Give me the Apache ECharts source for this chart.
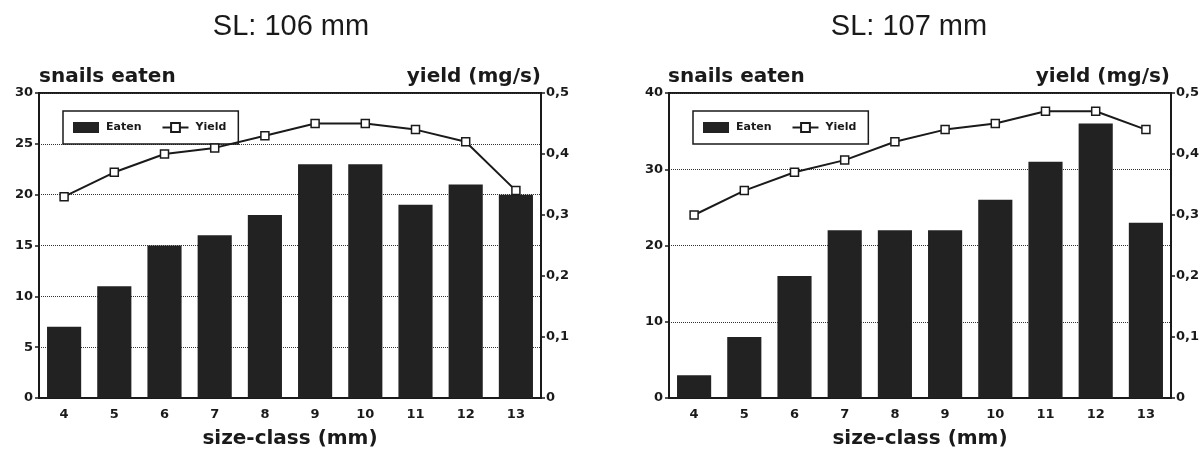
<!DOCTYPE html>
<html>
<head>
<meta charset="utf-8">
<title>Snails eaten and yield by size-class</title>
<script src="https://cdn.jsdelivr.net/npm/echarts@6/dist/echarts.min.js"></script>
<style>
  html, body { margin: 0; padding: 0; background: #fff; }
  #chart { width: 1204px; height: 450px; }
</style>
</head>
<body>
<div id="chart"></div>
<script>
// Size classes on the x axis (mm)
const sizeClasses = ['4', '5', '6', '7', '8', '9', '10', '11', '12', '13'];

// SL 106 mm
const eaten106 = [7, 11, 15, 16, 18, 23, 23, 19, 21, 20];
const yield106 = [0.33, 0.37, 0.40, 0.41, 0.43, 0.45, 0.45, 0.44, 0.42, 0.34];

// SL 107 mm
const eaten107 = [3, 8, 16, 22, 22, 22, 26, 31, 36, 23];
const yield107 = [0.30, 0.34, 0.37, 0.39, 0.42, 0.44, 0.45, 0.47, 0.47, 0.44];

// Axis ranges
const eatenMax106 = 30, eatenStep106 = 5;
const eatenMax107 = 40, eatenStep107 = 10;
const yieldMax = 0.5, yieldStep = 0.1;

const panelTitles = ['SL: 106 mm', 'SL: 107 mm'];

const INK = '#1a1a1a';
const BOLD = 'DejaVu Sans';
const grids = [
  { left: 39, top: 93, width: 502, height: 305 },
  { left: 669, top: 93, width: 502, height: 305 }
];

function commaDecimal(v) {
  return v === 0 ? '0' : v.toFixed(1).replace('.', ',');
}

function xAxisFor(gi) {
  return {
    type: 'category', gridIndex: gi, data: sizeClasses,
    boundaryGap: true,
    name: 'size-class (mm)', nameLocation: 'middle', nameGap: 31,
    nameTextStyle: { fontFamily: BOLD, fontWeight: 'bold', fontSize: 20, color: INK },
    axisLine: { lineStyle: { color: INK, width: 2 } },
    axisTick: { show: false },
    axisLabel: { fontFamily: BOLD, fontWeight: 'bold', fontSize: 13, color: INK, margin: 10 }
  };
}

function leftAxisFor(gi, max, step) {
  return {
    type: 'value', gridIndex: gi, position: 'left', min: 0, max: max, interval: step,
    axisLine: { show: true, lineStyle: { color: INK, width: 2 } },
    axisTick: { show: true, length: 4, lineStyle: { color: INK, width: 1.5 } },
    axisLabel: { fontFamily: BOLD, fontWeight: 'bold', fontSize: 13, color: INK, margin: 6 },
    splitLine: { show: true, lineStyle: { type: [1, 1], color: '#333', width: 1 } }
  };
}

function rightAxisFor(gi) {
  return {
    type: 'value', gridIndex: gi, position: 'right', min: 0, max: yieldMax, interval: yieldStep,
    axisLine: { show: true, lineStyle: { color: INK, width: 2 } },
    axisTick: { show: true, length: 4, lineStyle: { color: INK, width: 1.5 } },
    axisLabel: { fontFamily: BOLD, fontWeight: 'bold', fontSize: 13, color: INK, margin: 5,
                 formatter: commaDecimal },
    splitLine: { show: false }
  };
}

function barSeries(xi, yi, data) {
  return {
    name: 'Eaten', type: 'bar', xAxisIndex: xi, yAxisIndex: yi, data: data,
    barWidth: '68%',
    itemStyle: { color: '#222' },
    animation: false
  };
}

function lineSeries(xi, yi, data) {
  return {
    name: 'Yield', type: 'line', xAxisIndex: xi, yAxisIndex: yi, data: data,
    symbol: 'rect', symbolSize: 8,
    lineStyle: { color: INK, width: 2 },
    itemStyle: { color: '#fff', borderColor: INK, borderWidth: 1.5 },
    z: 5,
    animation: false
  };
}

function legendFor(left) {
  return {
    left: left, top: 111,
    data: [{ name: 'Eaten', icon: 'rect' }, { name: 'Yield' }],
    orient: 'horizontal',
    backgroundColor: '#fff',
    borderColor: INK, borderWidth: 1.5, borderRadius: 0,
    padding: [11, 12, 11, 10],
    itemWidth: 26, itemHeight: 11, itemGap: 20,
    textStyle: { fontFamily: BOLD, fontWeight: 'bold', fontSize: 11, color: INK, padding: [0, 0, 0, 2] },
    selectedMode: false
  };
}

function textItem(str, x, y, align, font) {
  return {
    type: 'text', x: x, y: y, silent: true,
    style: { text: str, font: font, fill: INK, textAlign: align, textVerticalAlign: 'middle' }
  };
}

const titleFont = 'normal 29px "Liberation Sans", Arial, sans-serif';
const nameFont = 'bold 20px "DejaVu Sans", sans-serif';

const option = {
  backgroundColor: '#fff',
  animation: false,
  grid: grids.map(g => Object.assign({ show: true, borderColor: INK, borderWidth: 2,
                                       backgroundColor: 'transparent',
                                       containLabel: false, outerBoundsMode: 'none' }, g)),
  xAxis: [xAxisFor(0), xAxisFor(1)],
  yAxis: [
    leftAxisFor(0, eatenMax106, eatenStep106),
    rightAxisFor(0),
    leftAxisFor(1, eatenMax107, eatenStep107),
    rightAxisFor(1)
  ],
  legend: [
    Object.assign(legendFor(63), { seriesIndex: [0, 1] }),
    Object.assign(legendFor(693), { seriesIndex: [2, 3] })
  ],
  series: [
    barSeries(0, 0, eaten106),
    lineSeries(0, 1, yield106),
    barSeries(1, 2, eaten107),
    lineSeries(1, 3, yield107)
  ],
  graphic: [
    textItem(panelTitles[0], 291, 27, 'center', titleFont),
    textItem(panelTitles[1], 909, 27, 'center', titleFont),
    textItem('snails eaten', 39, 77, 'left', nameFont),
    textItem('yield (mg/s)', 541, 77, 'right', nameFont),
    textItem('snails eaten', 668, 77, 'left', nameFont),
    textItem('yield (mg/s)', 1170, 77, 'right', nameFont)
  ]
};

const chart = echarts.init(document.getElementById('chart'), null, { renderer: 'canvas' });
chart.setOption(option);
</script>
</body>
</html>
